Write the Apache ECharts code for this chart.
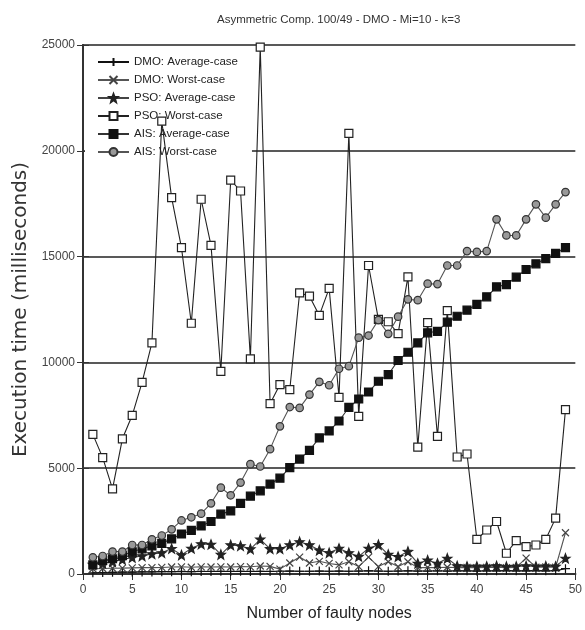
<!DOCTYPE html>
<html>
<head>
<meta charset="utf-8">
<script src="https://cdn.jsdelivr.net/npm/echarts@6/dist/echarts.min.js"></script>
<style>
  html, body { margin: 0; padding: 0; background: #fff; }
  #chart { width: 585px; height: 630px; }
</style>
</head>
<body>
<div id="chart"></div>
<script>
// Number of faulty nodes (x values)
const faultyNodes = [1,2,3,4,5,6,7,8,9,10,11,12,13,14,15,16,17,18,19,20,21,22,23,24,25,
  26,27,28,29,30,31,32,33,34,35,36,37,38,39,40,41,42,43,44,45,46,47,48,49];

// Execution times in milliseconds
const dmoAverage = [60,70,80,90,90,100,100,110,110,120,110,120,120,130,120,130,120,130,120,130,
  140,130,130,140,130,140,130,140,150,140,130,140,150,140,140,150,140,150,150,140,
  150,150,160,150,150,160,150,160,250];
const dmoWorst = [250,260,270,280,290,300,300,310,330,340,320,340,330,340,330,350,340,380,360,230,
  520,800,520,600,500,430,580,350,800,350,580,350,580,300,310,300,320,300,310,300,
  310,320,300,310,750,320,330,320,1950];
const psoAverage = [450,500,580,680,780,850,950,1000,1200,900,1210,1420,1400,920,1370,1330,1180,1640,1190,1190,
  1370,1520,1370,1120,1000,1210,1000,830,1210,1380,920,820,1060,500,650,500,740,380,360,360,
  360,380,350,360,380,360,370,360,740];
const psoWorst = [6600,5500,4020,6390,7500,9060,10920,21400,17790,15420,11850,17710,15530,9580,18610,18100,10170,24900,8050,8950,
  8710,13290,13130,12220,13500,8350,20820,7450,14580,12030,11920,11360,14040,6000,11880,6500,12450,5530,5670,1640,
  2080,2480,980,1580,1290,1370,1640,2640,7770];
const aisAverage = [430,640,720,870,1050,1190,1330,1450,1660,1890,2060,2270,2480,2830,2980,3340,3680,3930,4250,4530,
  5030,5430,5840,6430,6760,7230,7870,8270,8600,9110,9420,10090,10480,10920,11400,11470,11900,12180,12470,12740,
  13100,13570,13680,14030,14390,14660,14900,15150,15420];
const aisWorst = [790,850,1060,1060,1370,1370,1640,1820,2110,2530,2680,2850,3340,4080,3720,4320,5190,5080,5900,6980,
  7890,7850,8480,9080,8920,9700,9820,11170,11270,12000,11350,12160,12980,12940,13720,13700,14580,14580,15260,15220,
  15260,16760,16000,16000,16760,17470,16840,17470,18050];

const seriesNames = ['DMO: Average-case','DMO: Worst-case','PSO: Average-case','PSO: Worst-case','AIS: Average-case','AIS: Worst-case'];

const pairs = vals => faultyNodes.map((n, i) => [n, vals[i]]);

const SYM_PLUS = 'path://M0,5L10,5M5,0L5,10';
const SYM_CROSS = 'path://M0,0L10,10M10,0L0,10';
const SYM_STAR = 'path://M5,0L6.3,3.5L10,3.7L7.1,6.1L8.1,10L5,7.8L1.9,10L2.9,6.1L0,3.7L3.7,3.5Z';

const sans = '"Liberation Sans", Arial, sans-serif';

function mkSeries(name, vals, symbol, size, fill, stroke, lineColor) {
  return {
    name: name,
    type: 'line',
    data: pairs(vals),
    symbol: symbol,
    symbolSize: size,
    showAllSymbol: true,
    z: 3,
    lineStyle: { color: lineColor, width: 1.1 },
    itemStyle: { color: fill, borderColor: stroke, borderWidth: 1.2 },
    emphasis: { disabled: true },
    animation: false
  };
}

const chart = echarts.init(document.getElementById('chart'), null, { renderer: 'canvas' });

chart.setOption({
  animation: false,
  backgroundColor: '#fff',
  title: {
    text: 'Asymmetric Comp. 100/49 - DMO - Mi=10 - k=3',
    left: 212,
    top: 9,
    textStyle: { fontFamily: sans, fontSize: 11.5, fontWeight: 'normal', color: '#333' }
  },
  grid: { left: 83, right: 7, top: 45, bottom: 56, show: false },
  legend: {
    orient: 'vertical',
    left: 85,
    top: 47,
    padding: [8, 14, 5, 12],
    itemWidth: 31,
    itemHeight: 10,
    itemGap: 4,
    z: 1,
    backgroundColor: '#fff',
    data: seriesNames,
    textStyle: { fontFamily: sans, fontSize: 11.5, color: '#222', lineHeight: 14 }
  },
  xAxis: [{
    type: 'value',
    min: 0, max: 50, interval: 5,
    name: 'Number of faulty nodes',
    nameLocation: 'middle',
    nameGap: 32,
    nameTextStyle: { fontFamily: sans, fontSize: 16, color: '#222' },
    axisLine: { show: true, lineStyle: { color: '#333', width: 2 } },
    axisTick: { show: true, inside: true, length: 6, lineStyle: { color: '#333' } },
    axisLabel: { fontFamily: sans, fontSize: 12, color: '#444', margin: 10 },
    splitLine: { show: false }
  }, {
    type: 'value',
    position: 'top',
    min: 0, max: 50, interval: 5,
    axisLine: { show: true, lineStyle: { color: '#333', width: 2 } },
    axisTick: { show: true, inside: true, length: 6, lineStyle: { color: '#333' } },
    axisLabel: { show: false },
    splitLine: { show: false }
  }],
  yAxis: [{
    type: 'value',
    min: 0, max: 25000, interval: 5000,
    name: 'Execution time (milliseconds)',
    nameLocation: 'middle',
    nameRotate: 90,
    nameGap: 48,
    nameTextStyle: { fontFamily: '"DejaVu Sans", sans-serif', fontSize: 20, color: '#333' },
    axisLine: { show: true, lineStyle: { color: '#333', width: 2 } },
    axisTick: { show: true, inside: true, length: 6, lineStyle: { color: '#333' } },
    axisLabel: { fontFamily: sans, fontSize: 12, color: '#444', margin: 8, formatter: v => String(v) },
    splitLine: { show: true, lineStyle: { color: '#222', width: 1.6 } }
  }, {
    type: 'value',
    position: 'right',
    min: 0, max: 25000, interval: 5000,
    axisLine: { show: true, lineStyle: { color: '#333', width: 2 } },
    axisTick: { show: true, inside: true, length: 6, lineStyle: { color: '#333' } },
    axisLabel: { show: false },
    splitLine: { show: false }
  }],
  series: [
    mkSeries(seriesNames[0], dmoAverage, SYM_PLUS, 9, '#111', '#111', '#111'),
    mkSeries(seriesNames[1], dmoWorst, SYM_CROSS, 7, '#444', '#444', '#555'),
    mkSeries(seriesNames[2], psoAverage, SYM_STAR, 9, '#222', '#222', '#444'),
    mkSeries(seriesNames[3], psoWorst, 'rect', 8, '#fff', '#222', '#222'),
    mkSeries(seriesNames[4], aisAverage, 'rect', 8, '#111', '#111', '#333'),
    mkSeries(seriesNames[5], aisWorst, 'circle', 7.5, '#999', '#333', '#555')
  ]
});
</script>
</body>
</html>
